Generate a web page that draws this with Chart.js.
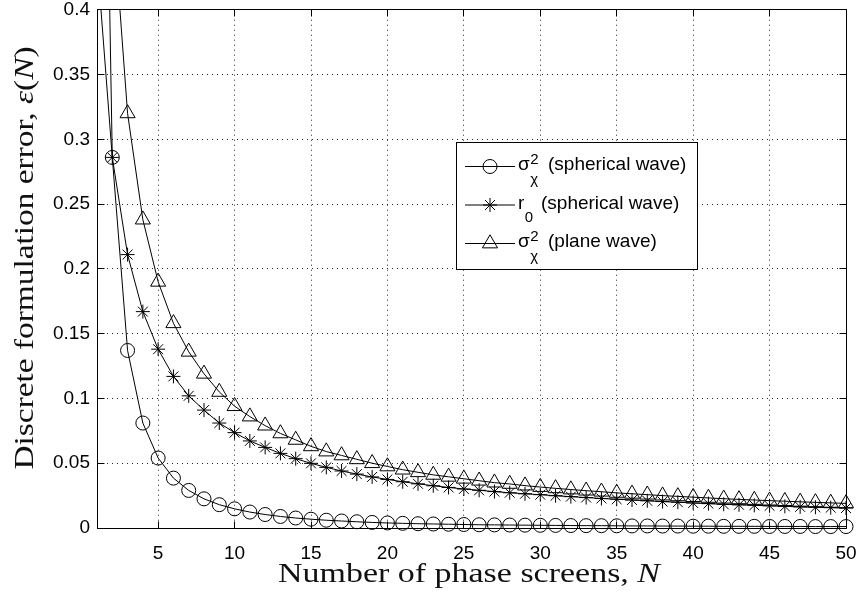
<!DOCTYPE html>
<html>
<head>
<meta charset="utf-8">
<script src="https://cdn.jsdelivr.net/npm/chart.js@4/dist/chart.umd.min.js"></script>
<style>
  html, body { margin: 0; padding: 0; background: #fff; }
  #wrap { width: 859px; height: 594px; }
</style>
</head>
<body>
<div id="wrap"><canvas id="myChart" width="859" height="594"></canvas></div>
<script>
// number of phase screens N
const screens = [1, 2, 3, 4, 5, 6, 7, 8, 9, 10, 11, 12, 13, 14, 15, 16, 17, 18, 19, 20,
  21, 22, 23, 24, 25, 26, 27, 28, 29, 30, 31, 32, 33, 34, 35, 36, 37, 38, 39, 40,
  41, 42, 43, 44, 45, 46, 47, 48, 49, 50];

// sigma_chi^2, spherical wave (circles)
const scintSpherical = [0.97, 0.286, 0.137, 0.081, 0.054, 0.0385, 0.029, 0.0225, 0.018, 0.0148,
  0.0123, 0.0104, 0.0089, 0.0077, 0.0068, 0.006, 0.0054, 0.0048, 0.0043, 0.0039,
  0.0036, 0.0033, 0.0031, 0.0029, 0.0027, 0.0025, 0.0024, 0.0023, 0.0022, 0.0021,
  0.002, 0.0019, 0.0018, 0.0018, 0.0017, 0.0016, 0.0016, 0.0015, 0.0015, 0.0014,
  0.0014, 0.0013, 0.0013, 0.0013, 0.0012, 0.0012, 0.0012, 0.0011, 0.0011, 0.0011];

// r0, spherical wave (stars)
const r0Spherical = [0.44, 0.286, 0.211, 0.167, 0.138, 0.117, 0.102, 0.091, 0.081, 0.0736,
  0.0672, 0.0622, 0.0576, 0.0535, 0.0499, 0.0468, 0.044, 0.0416, 0.0394, 0.0375,
  0.0357, 0.0341, 0.0326, 0.0313, 0.0301, 0.0291, 0.0281, 0.0272, 0.0264, 0.0257,
  0.0249, 0.0242, 0.0235, 0.0228, 0.0222, 0.0216, 0.021, 0.0204, 0.0199, 0.0193,
  0.0188, 0.0183, 0.0179, 0.0175, 0.0171, 0.0167, 0.0163, 0.016, 0.0157, 0.0154];

// sigma_chi^2, plane wave (triangles)
const scintPlane = [0.95, 0.48, 0.32, 0.238, 0.19, 0.158, 0.136, 0.119, 0.105, 0.094,
  0.086, 0.079, 0.073, 0.068, 0.063, 0.059, 0.056, 0.053, 0.05, 0.0475,
  0.045, 0.043, 0.041, 0.0395, 0.038, 0.0365, 0.035, 0.034, 0.0327, 0.0316,
  0.0306, 0.0297, 0.0288, 0.028, 0.0271, 0.0264, 0.0257, 0.025, 0.0244, 0.0238,
  0.0232, 0.0226, 0.0221, 0.0216, 0.0211, 0.0207, 0.0202, 0.0198, 0.0194, 0.019];

const xTicks = [5, 10, 15, 20, 25, 30, 35, 40, 45, 50];
const yTicks = [0, 0.05, 0.1, 0.15, 0.2, 0.25, 0.3, 0.35, 0.4];
const yTickLabels = ['0', '0.05', '0.1', '0.15', '0.2', '0.25', '0.3', '0.35', '0.4'];

const sansFont = 'Liberation Sans';
const serifFont = 'Liberation Serif';

function toPoints(values) {
  return screens.map((n, i) => ({ x: n, y: values[i] }));
}

function series(label, values, style, radius) {
  return {
    label: label,
    data: toPoints(values),
    borderColor: '#000',
    borderWidth: 1,
    backgroundColor: 'rgba(0,0,0,0)',
    pointStyle: style,
    pointRadius: radius,
    pointBorderColor: '#000',
    pointBackgroundColor: 'rgba(0,0,0,0)',
    pointBorderWidth: 1,
    tension: 0,
    clip: { left: 12, right: 12, top: 0, bottom: 12 }
  };
}

function crisp(p) {
  return Math.round(p - 0.5) + 0.5;
}

// MATLAB style box with inward ticks on all four sides
function drawFrame(chart) {
  const ctx = chart.ctx;
  const area = chart.chartArea;
  const xs = chart.scales.x;
  const ys = chart.scales.y;
  const l = crisp(area.left), r = crisp(area.right);
  const t = crisp(area.top), b = crisp(area.bottom);
  const len = 7;
  ctx.save();
  ctx.strokeStyle = '#000';
  ctx.lineWidth = 1;
  ctx.setLineDash([]);
  ctx.beginPath();
  xTicks.forEach((v) => {
    const px = crisp(xs.getPixelForValue(v));
    ctx.moveTo(px, b); ctx.lineTo(px, b - len);
    ctx.moveTo(px, t); ctx.lineTo(px, t + len);
  });
  yTicks.forEach((v) => {
    const py = crisp(ys.getPixelForValue(v));
    ctx.moveTo(l, py); ctx.lineTo(l + len, py);
    ctx.moveTo(r, py); ctx.lineTo(r - len, py);
  });
  ctx.rect(l, t, r - l, b - t);
  ctx.stroke();
  ctx.restore();
}

// text in serif, stretched to the width the reference uses
function drawTitle(ctx, parts, size, width) {
  let total = 0;
  const widths = parts.map((p) => {
    ctx.font = (p.italic ? 'italic ' : '') + size + 'px "' + serifFont + '"';
    const w = ctx.measureText(p.text).width;
    total += w;
    return w;
  });
  ctx.scale(width / total, 1);
  let x = -total / 2;
  parts.forEach((p, i) => {
    ctx.font = (p.italic ? 'italic ' : '') + size + 'px "' + serifFont + '"';
    ctx.fillText(p.text, x, 0);
    x += widths[i];
  });
}

function drawTitles(chart) {
  const ctx = chart.ctx;
  ctx.save();
  ctx.fillStyle = '#111';
  ctx.textBaseline = 'alphabetic';
  ctx.textAlign = 'left';
  ctx.translate(469, 582);
  drawTitle(ctx, [{ text: 'Number of phase screens, ' }, { text: 'N', italic: true }], 27, 382);
  ctx.restore();

  ctx.save();
  ctx.fillStyle = '#111';
  ctx.textBaseline = 'alphabetic';
  ctx.textAlign = 'left';
  ctx.translate(33, 258);
  ctx.rotate(-Math.PI / 2);
  drawTitle(ctx, [
    { text: 'Discrete formulation error, ' },
    { text: 'ε', italic: true },
    { text: '(' },
    { text: 'N', italic: true },
    { text: ')' }
  ], 27, 423);
  ctx.restore();
}

function marker(ctx, style, radius, x, y) {
  ctx.strokeStyle = '#000';
  ctx.fillStyle = 'rgba(0,0,0,0)';
  ctx.lineWidth = 1;
  if (Chart.helpers && Chart.helpers.drawPoint) {
    Chart.helpers.drawPoint(ctx, { pointStyle: style, radius: radius, borderWidth: 1, rotation: 0 }, x, y);
    return;
  }
  ctx.beginPath();
  if (style === 'circle') {
    ctx.arc(x, y, radius, 0, Math.PI * 2);
  } else if (style === 'triangle') {
    ctx.moveTo(x, y - radius);
    ctx.lineTo(x + radius * 0.866, y + radius / 2);
    ctx.lineTo(x - radius * 0.866, y + radius / 2);
    ctx.closePath();
  } else {
    const d = radius * 0.707;
    ctx.moveTo(x - radius, y); ctx.lineTo(x + radius, y);
    ctx.moveTo(x, y - radius); ctx.lineTo(x, y + radius);
    ctx.moveTo(x - d, y - d); ctx.lineTo(x + d, y + d);
    ctx.moveTo(x - d, y + d); ctx.lineTo(x + d, y - d);
  }
  ctx.stroke();
}

function drawLegend(chart) {
  const ctx = chart.ctx;
  const rows = [
    { y: 166.5, style: 'circle', radius: 7, main: 'σ', sup: '2', sub: 'χ', rest: '(spherical wave)', restX: 548 },
    { y: 205, style: 'star', radius: 7, main: 'r', sup: '', sub: '0', rest: '(spherical wave)', restX: 541 },
    { y: 243.5, style: 'triangle', radius: 8.7, main: 'σ', sup: '2', sub: 'χ', rest: '(plane wave)', restX: 548 }
  ];
  ctx.save();
  ctx.fillStyle = '#fff';
  ctx.fillRect(456.5, 142.5, 241, 127);
  ctx.strokeStyle = '#000';
  ctx.lineWidth = 1;
  ctx.strokeRect(456.5, 142.5, 241, 127);

  rows.forEach((row) => {
    ctx.beginPath();
    ctx.moveTo(465, row.y);
    ctx.lineTo(515, row.y);
    ctx.stroke();
    marker(ctx, row.style, row.radius, 490, row.y);

    const base = row.y + 3.7;
    ctx.fillStyle = '#000';
    ctx.textAlign = 'left';
    ctx.textBaseline = 'alphabetic';
    ctx.font = '19px "' + sansFont + '"';
    ctx.fillText(row.main, 518, base);
    const scriptX = 518 + ctx.measureText(row.main).width + 0.5;
    ctx.font = '15px "' + sansFont + '"';
    if (row.sup) ctx.fillText(row.sup, scriptX, base - 6);
    ctx.fillText(row.sub, scriptX, base + (row.sup ? 14 : 13));
    ctx.font = '19px "' + sansFont + '"';
    ctx.fillText(row.rest, row.restX, base);
  });
  ctx.restore();
}

const framePlugin = {
  id: 'frame',
  afterDatasetsDraw(chart) {
    drawFrame(chart);
  },
  afterDraw(chart) {
    drawTitles(chart);
    drawLegend(chart);
  }
};

const ctx = document.getElementById('myChart');
const myChart = new Chart(ctx, {
  type: 'line',
  data: {
    datasets: [
      series('σχ² (spherical wave)', scintSpherical, 'circle', 7),
      series('r0 (spherical wave)', r0Spherical, 'star', 7),
      series('σχ² (plane wave)', scintPlane, 'triangle', 8.7)
    ]
  },
  options: {
    responsive: false,
    devicePixelRatio: 1,
    animation: false,
    layout: { padding: { top: 8, right: 13, left: 0, bottom: 0 } },
    plugins: {
      legend: { display: false },
      tooltip: { enabled: false }
    },
    scales: {
      x: {
        type: 'linear',
        min: 1,
        max: 50,
        afterBuildTicks: (scale) => {
          scale.ticks = xTicks.map((v) => ({ value: v }));
        },
        afterFit: (scale) => {
          scale.height = 66;
          scale.paddingLeft = 0;
          scale.paddingRight = 0;
        },
        ticks: {
          color: '#000',
          font: { family: sansFont, size: 19 },
          padding: 14,
          maxRotation: 0,
          autoSkip: false
        },
        grid: { color: '#222', lineWidth: 1, drawTicks: false },
        border: { display: false, dash: [1, 4] }
      },
      y: {
        type: 'linear',
        min: 0,
        max: 0.4,
        afterBuildTicks: (scale) => {
          scale.ticks = yTicks.map((v) => ({ value: v }));
        },
        afterFit: (scale) => {
          scale.width = 97;
          scale.paddingTop = 0;
          scale.paddingBottom = 0;
        },
        ticks: {
          color: '#000',
          font: { family: sansFont, size: 19 },
          padding: 7,
          autoSkip: false,
          callback: (value, index) => yTickLabels[index]
        },
        grid: { color: '#222', lineWidth: 1, drawTicks: false },
        border: { display: false, dash: [1, 4] }
      }
    }
  },
  plugins: [framePlugin]
});
</script>
</body>
</html>
